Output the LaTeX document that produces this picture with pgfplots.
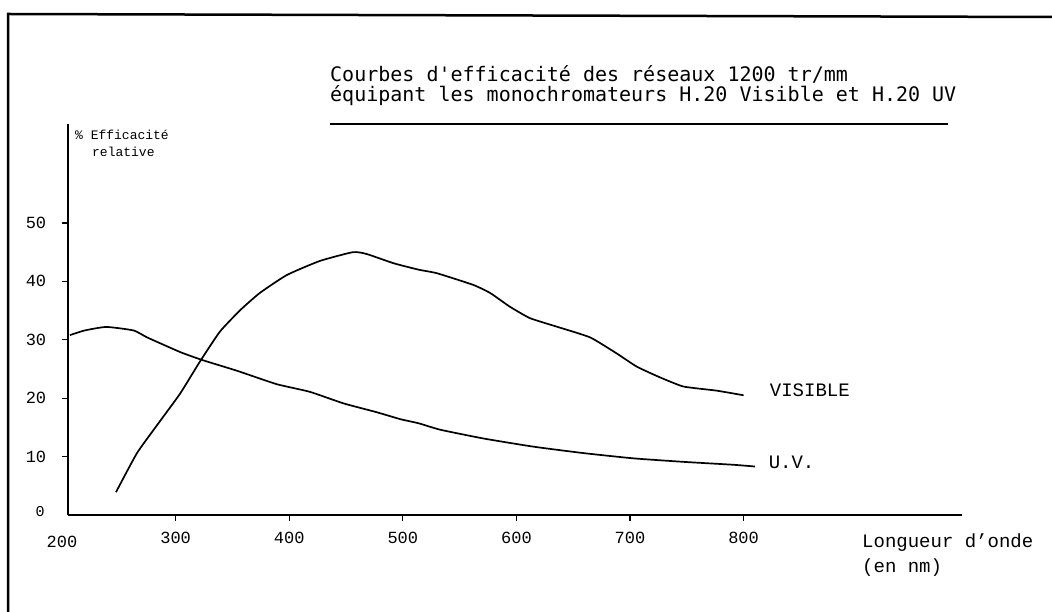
\documentclass[border=0pt]{standalone}
\usepackage{fontspec}
\setmainfont{Liberation Mono}
\newfontfamily\titlefont{DejaVu Sans Mono}
\usepackage{pgfplots}
\pgfplotsset{compat=1.18}
\pgfplotstableread{
x y
207 30.8
220 31.6
239 32.2
263 31.6
275 30.4
304 27.9
324 26.5
354 24.7
389 22.4
418 21.1
448 19.1
477 17.6
498 16.4
514 15.7
533 14.6
571 13.1
615 11.7
659 10.6
703 9.7
747 9.1
791 8.6
810 8.3
}\uvdata
\pgfplotstableread{
x y
247.5 3.9
266 10.6
286 16.0
304 20.8
321.5 26.3
339 31.4
357 35.1
374 38.0
398 41.1
427 43.5
456 45.0
468 44.7
492 43.1
514 42.0
530 41.4
562 39.4
577 38.0
594 35.7
612 33.7
638 32.1
665 30.4
688 27.7
706 25.4
726 23.6
747 22.0
776 21.3
800 20.5
}\visdata
\begin{document}
\begin{tikzpicture}
\useasboundingbox (0bp,0bp) rectangle (1052bp,612bp);
\fill[white] (0bp,0bp) rectangle (1052bp,612bp);
\draw[line width=2.5bp] (8bp,0bp) -- (8bp,598bp) -- (1052bp,595bp);
\begin{axis}[
  at={(67.7bp,97bp)}, anchor=south west, scale only axis,
  width=894bp, height=391.3bp,
  xmin=205, xmax=992, ymin=0, ymax=67,
  axis x line*=bottom, axis y line*=left,
  axis line style={line width=1.8bp, -},
  tick align=outside, major tick length=6bp,
  tick style={line width=1.2bp, black},
  xtick={300,400,...,800}, ytick={10,20,...,50},
  ticklabel style={font=\fontsize{17bp}{17bp}\selectfont},
  /pgf/number format/assume math mode=true,
  xticklabel style={yshift=-8bp},
  yticklabel style={xshift=-12bp},
  clip=false,
]
\addplot[line width=1.7bp, black, line join=round, smooth, tension=0.3] table {\uvdata};
\addplot[line width=1.7bp, black, line join=round, smooth, tension=0.3] table {\visdata};
\node[anchor=west, inner sep=0pt, font=\fontsize{19bp}{19bp}\selectfont] at (axis cs:823,21.4) {VISIBLE};
\node[anchor=west, inner sep=0pt, font=\fontsize{19bp}{19bp}\selectfont] at (axis cs:822,9.1) {U.V.};
\end{axis}
\node[font=\fontsize{17bp}{17bp}\selectfont] at (62bp,70bp) {200};
\node[font=\fontsize{15bp}{15bp}\selectfont] at (40bp,100bp) {0};
\node[anchor=west, inner sep=0pt, font=\titlefont\fontsize{20bp}{20bp}\selectfont] at (330bp,538bp) {Courbes d'efficacité des réseaux 1200 tr/mm};
\node[anchor=west, inner sep=0pt, font=\titlefont\fontsize{20bp}{20bp}\selectfont] at (330bp,516bp) {équipant les monochromateurs H.20 Visible et H.20 UV};
\draw[line width=1.2bp] (330bp,488bp) -- (948bp,488bp);
\node[anchor=west, inner sep=0pt, font=\fontsize{13bp}{13bp}\selectfont] at (75bp,477bp) {\% Efficacité};
\node[anchor=west, inner sep=0pt, font=\fontsize{13bp}{13bp}\selectfont] at (92bp,460bp) {relative};
\node[anchor=west, inner sep=0pt, font=\fontsize{19bp}{19bp}\selectfont] at (862bp,69bp) {Longueur d'onde};
\node[anchor=west, inner sep=0pt, font=\fontsize{19bp}{19bp}\selectfont] at (862bp,44bp) {(en nm)};
\end{tikzpicture}
\end{document}
